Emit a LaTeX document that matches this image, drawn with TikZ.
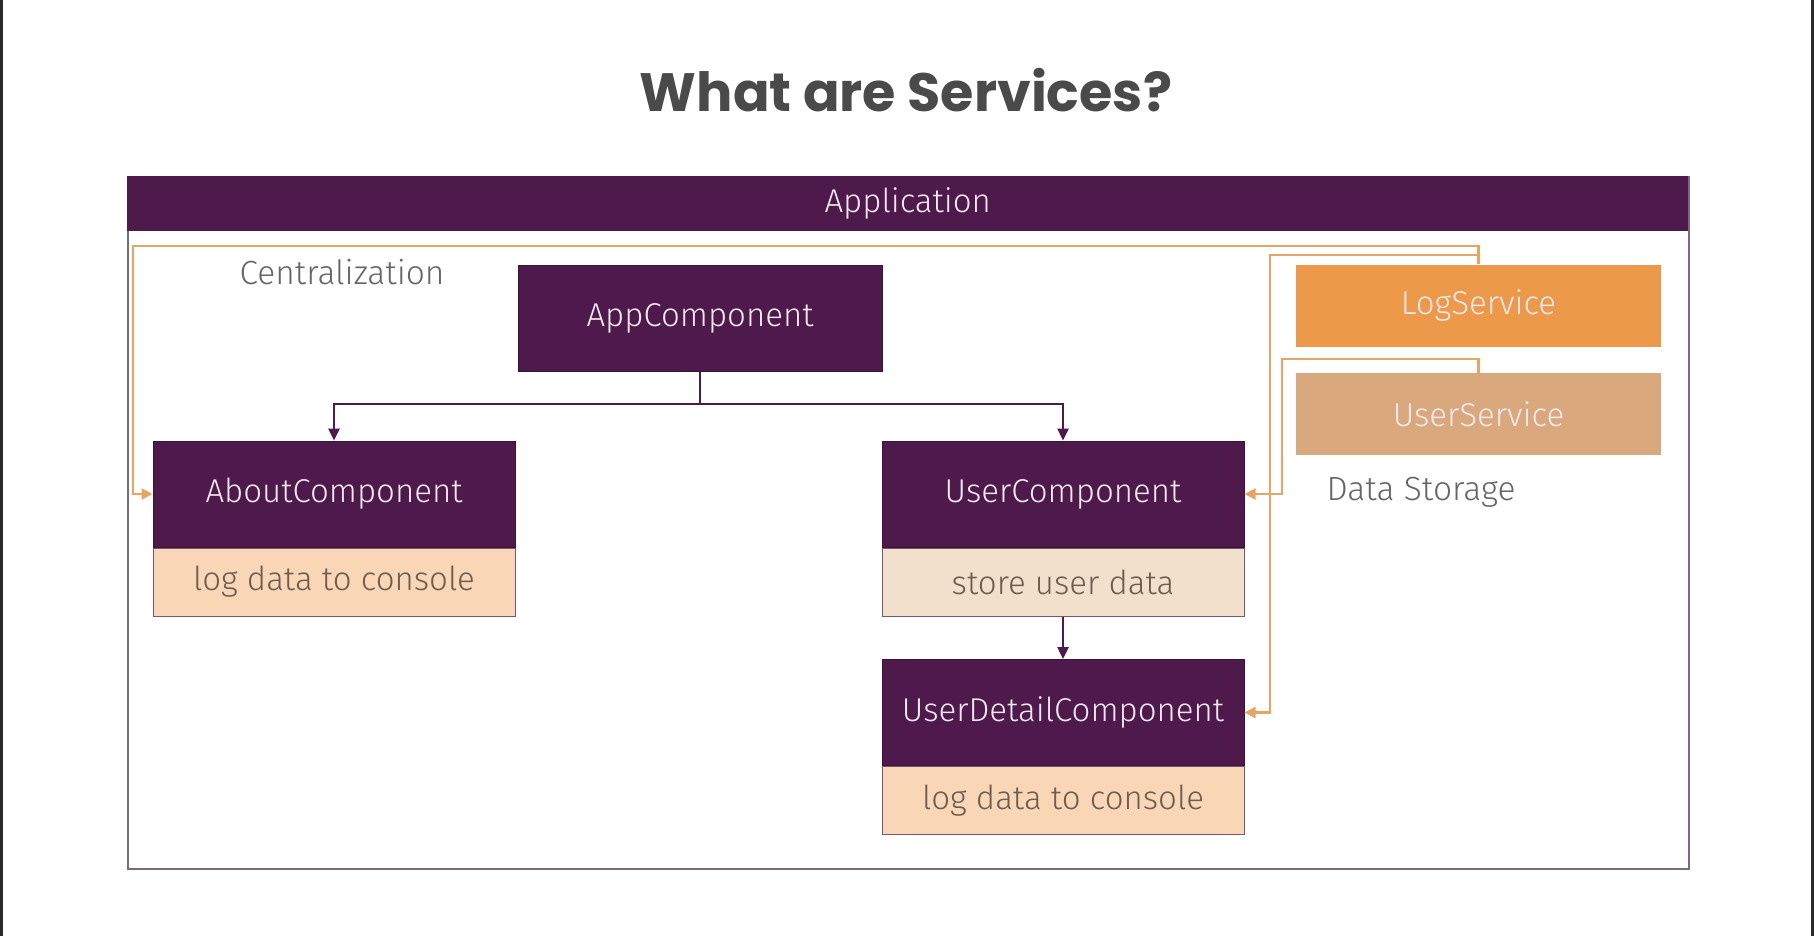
\documentclass[tikz,border=0pt]{standalone}
\usepackage{fontspec}
\setmainfont{Fira Sans Light}
\newfontfamily\titlefont{Poppins}
\usetikzlibrary{arrows.meta}

\definecolor{plum}{HTML}{4E1A4C}
\definecolor{plumline}{HTML}{3A1238}
\definecolor{logorange}{HTML}{EC9A4A}
\definecolor{usertan}{HTML}{D9A97D}
\definecolor{peach}{HTML}{F9D6B6}
\definecolor{beige}{HTML}{F1E0CB}
\definecolor{wireorange}{HTML}{E6A562}
\definecolor{frameline}{HTML}{7A6A7A}
\definecolor{titlegray}{HTML}{4A4A4A}
\definecolor{notegray}{HTML}{666666}
\definecolor{softwhite}{HTML}{F4E8F0}
\definecolor{bodytext}{HTML}{6E5D4E}
\definecolor{edge}{HTML}{2B2B2B}

\tikzset{
  comphead/.style={rectangle, inner sep=0pt, fill=plum, draw=plumline, line width=1pt,
    minimum width=362pt, minimum height=106pt, text=softwhite, font=\fontsize{33}{38}\selectfont},
  compbody/.style={rectangle, inner sep=0pt, draw=plumline!70, line width=1pt,
    minimum width=362pt, minimum height=68pt, text=bodytext, font=\fontsize{33}{38}\selectfont},
  svcbox/.style={rectangle, inner sep=0pt, minimum width=365pt, minimum height=82pt,
    text=softwhite, font=\fontsize{33}{38}\selectfont},
  note/.style={text=notegray, font=\fontsize{33.5}{38}\selectfont},
  plink/.style={draw=plum, line width=2.5pt, -{Triangle[length=12pt,width=11pt]}},
  olink/.style={draw=wireorange, line width=2.5pt, -{Triangle[length=11pt,width=11pt]}},
}

\begin{document}
\begin{tikzpicture}[x=1pt,y=-1pt]
\useasboundingbox (0,0) rectangle (1814,936);
\fill[white] (0,0) rectangle (1814,936);
% side rules of the slide
\fill[edge] (0,0) rectangle (3,936);
\fill[edge] (1811,0) rectangle (1814,936);

% title
\node[text=titlegray, font=\titlefont\bfseries\fontsize{54}{60}\selectfont] (title) at (906,90) {What are Services?};

% application frame and its header bar
\node[rectangle, draw=frameline, line width=1.5pt, minimum width=1561pt, minimum height=692pt,
  anchor=north west, inner sep=0pt] (appframe) at (127,176) {};
\node[rectangle, fill=plum, minimum width=1561pt, minimum height=55pt, anchor=north west,
  inner sep=0pt, text=softwhite, font=\fontsize{33}{38}\selectfont] (apphead) at (127,176) {Application};

% components
\node[comphead, minimum width=364pt] (app) at (700,318) {AppComponent};

\node[comphead] (about) at (334,494) {AboutComponent};
\node[compbody, fill=peach, anchor=north] (aboutbody) at (about.south) {log data to console};

\node[comphead] (user) at (1063,494) {UserComponent};
\node[compbody, fill=beige, anchor=north] (userbody) at (user.south) {store user data};

\node[comphead] (udetail) at (1063,712.5) {UserDetailComponent};
\node[compbody, fill=peach, anchor=north] (udetailbody) at (udetail.south) {log data to console};

% services
\node[svcbox, fill=logorange] (log) at (1478.5,305.5) {LogService};
\node[svcbox, fill=usertan] (usvc) at (1478.5,414) {UserService};

% side notes
\node[note] (central) at (342,272) {Centralization};
\node[note] (storage) at (1421,492) {Data Storage};

% component tree
\coordinate (split) at (700,404);
\draw[plink] (app.south) -- (split) -| (about.north);
\draw[plink] (split) -| (user.north);
\draw[plink] (userbody.south) -- (udetail.north);

% service wiring
\draw[olink] (log.north) |- (133,246) |- (about.west);
\draw[olink] (log.north) |- (1270,255) |- (udetail.east);
\draw[olink] (usvc.north) |- (1282,359) |- (user.east);
\end{tikzpicture}
\end{document}
